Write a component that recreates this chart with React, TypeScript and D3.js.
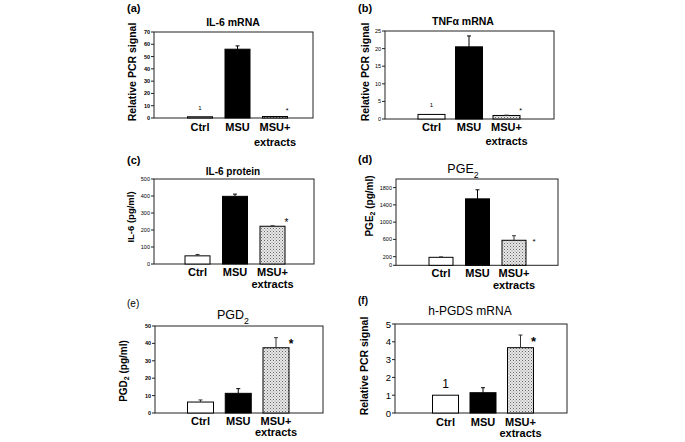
import React from "react";
import * as d3 from "d3";

const categories = ["Ctrl", "MSU", "MSU+ extracts"];

const il6mRNA = [1, 56, 1.2];
const il6mRNAErr = [0, 2.7, 0];
const tnfMRNA = [1.3, 20.5, 1.0];
const tnfMRNAErr = [0, 3.1, 0.1];
const il6Protein = [48, 398, 222];
const il6ProteinErr = [8, 13, 3];
const pge2 = [185, 1540, 580];
const pge2Err = [10, 210, 105];
const pgd2 = [6.3, 11.3, 37.5];
const pgd2Err = [1.2, 2.7, 5.8];
const hpgds = [1, 1.14, 3.67];
const hpgdsErr = [0, 0.28, 0.71];

const ticksA = [0, 10, 20, 30, 40, 50, 60, 70];
const ticksB = [0, 5, 10, 15, 20, 25];
const ticksC = [0, 100, 200, 300, 400, 500];
const ticksD = [0, 200, 600, 1000, 1400, 1800];
const ticksE = [0, 10, 20, 30, 40, 50];
const ticksF = [0, 1, 2, 3, 4, 5];

const FONT = "'Liberation Sans', Arial, Helvetica, sans-serif";

type Part = { t: string; sub?: boolean };

interface PanelCfg {
  tag: string; tagX: number; tagY: number; tagSize: number; tagWeight: string;
  title: Part[]; titleX: number; titleY: number; titleSize: number; titleWeight: string;
  x0: number; x1: number; yTop: number; yBot: number;
  c0: number; c2: number; barW: number;
  max: number; ticks: number[]; tickSize: number; tickWeight: string;
  values: number[]; errs: number[];
  ylabel: Part[]; ylabelX: number; ylabelY: number; ylabelSize: number;
  ctrlMark: boolean; ctrlMarkSize: number; ctrlMarkOff: number;
  starSize: number; starDx: number; starOff: number; starWeight: string;
  catSize: number; catY1: number; catY2: number;
}

const panels: PanelCfg[] = [
  {
    tag: "(a)", tagX: 127, tagY: 12, tagSize: 11, tagWeight: "bold",
    title: [{ t: "IL-6 mRNA" }], titleX: 233, titleY: 26, titleSize: 10.5, titleWeight: "bold",
    x0: 154, x1: 313, yTop: 32, yBot: 118, c0: 200, c2: 275, barW: 25,
    max: 70, ticks: ticksA, tickSize: 5.5, tickWeight: "bold",
    values: il6mRNA, errs: il6mRNAErr,
    ylabel: [{ t: "Relative PCR signal" }], ylabelX: 132, ylabelY: 72, ylabelSize: 10.5,
    ctrlMark: true, ctrlMarkSize: 6, ctrlMarkOff: 7,
    starSize: 7, starDx: 12, starOff: 6, starWeight: "normal",
    catSize: 11, catY1: 131, catY2: 146,
  },
  {
    tag: "(b)", tagX: 358, tagY: 12, tagSize: 11, tagWeight: "bold",
    title: [{ t: "TNFα mRNA" }], titleX: 463, titleY: 25, titleSize: 10.5, titleWeight: "bold",
    x0: 385, x1: 554, yTop: 31, yBot: 119, c0: 431.5, c2: 506.5, barW: 27,
    max: 25, ticks: ticksB, tickSize: 5.5, tickWeight: "normal",
    values: tnfMRNA, errs: tnfMRNAErr,
    ylabel: [{ t: "Relative PCR signal" }], ylabelX: 365, ylabelY: 72, ylabelSize: 10.5,
    ctrlMark: true, ctrlMarkSize: 6, ctrlMarkOff: 7,
    starSize: 7, starDx: 14, starOff: 5, starWeight: "normal",
    catSize: 11, catY1: 131, catY2: 145,
  },
  {
    tag: "(c)", tagX: 127, tagY: 164, tagSize: 11, tagWeight: "bold",
    title: [{ t: "IL-6 protein" }], titleX: 233, titleY: 175, titleSize: 10, titleWeight: "bold",
    x0: 154, x1: 314, yTop: 179, yBot: 264, c0: 197.5, c2: 272.5, barW: 25,
    max: 500, ticks: ticksC, tickSize: 5.5, tickWeight: "normal",
    values: il6Protein, errs: il6ProteinErr,
    ylabel: [{ t: "IL-6 (pg/ml)" }], ylabelX: 130, ylabelY: 217, ylabelSize: 9.5,
    ctrlMark: false, ctrlMarkSize: 6, ctrlMarkOff: 7,
    starSize: 10, starDx: 14, starOff: 3, starWeight: "normal",
    catSize: 11, catY1: 276, catY2: 288,
  },
  {
    tag: "(d)", tagX: 358, tagY: 163, tagSize: 11, tagWeight: "bold",
    title: [{ t: "PGE" }, { t: "2", sub: true }], titleX: 463, titleY: 173, titleSize: 12.5, titleWeight: "normal",
    x0: 396, x1: 558, yTop: 179, yBot: 265.3, c0: 441, c2: 514, barW: 24,
    max: 2000, ticks: ticksD, tickSize: 5.5, tickWeight: "normal",
    values: pge2, errs: pge2Err,
    ylabel: [{ t: "PGE" }, { t: "2", sub: true }, { t: " (pg/ml)" }], ylabelX: 369, ylabelY: 206, ylabelSize: 10,
    ctrlMark: false, ctrlMarkSize: 6, ctrlMarkOff: 7,
    starSize: 8, starDx: 20, starOff: -6, starWeight: "normal",
    catSize: 11, catY1: 277, catY2: 289,
  },
  {
    tag: "(e)", tagX: 127, tagY: 307, tagSize: 10, tagWeight: "normal",
    title: [{ t: "PGD" }, { t: "2", sub: true }], titleX: 233, titleY: 319, titleSize: 12.5, titleWeight: "normal",
    x0: 155, x1: 323, yTop: 326, yBot: 413, c0: 200.5, c2: 276, barW: 26,
    max: 50, ticks: ticksE, tickSize: 5.5, tickWeight: "bold",
    values: pgd2, errs: pgd2Err,
    ylabel: [{ t: "PGD" }, { t: "2", sub: true }, { t: " (pg/ml)" }], ylabelX: 123, ylabelY: 371, ylabelSize: 10,
    ctrlMark: false, ctrlMarkSize: 6, ctrlMarkOff: 7,
    starSize: 12, starDx: 15, starOff: -6, starWeight: "bold",
    catSize: 11, catY1: 425, catY2: 436,
  },
  {
    tag: "(f)", tagX: 358, tagY: 304, tagSize: 10, tagWeight: "bold",
    title: [{ t: "h-PGDS mRNA" }], titleX: 470, titleY: 315, titleSize: 12, titleWeight: "normal",
    x0: 395, x1: 567, yTop: 324, yBot: 413, c0: 445.5, c2: 520.5, barW: 26,
    max: 5, ticks: ticksF, tickSize: 9.5, tickWeight: "normal",
    values: hpgds, errs: hpgdsErr,
    ylabel: [{ t: "Relative PCR signal" }], ylabelX: 364, ylabelY: 366, ylabelSize: 10.5,
    ctrlMark: true, ctrlMarkSize: 12, ctrlMarkOff: 7,
    starSize: 13, starDx: 13, starOff: -6, starWeight: "bold",
    catSize: 11, catY1: 426, catY2: 437,
  },
];

const fills = ["#ffffff", "#000000", "url(#stipple)"];

function Parts({ parts }: { parts: Part[] }) {
  return (
    <>
      {parts.map((p, i) =>
        p.sub ? (
          <tspan key={i} baselineShift="sub" fontSize="70%">{p.t}</tspan>
        ) : (
          <tspan key={i}>{p.t}</tspan>
        )
      )}
    </>
  );
}

function Panel({ cfg }: { cfg: PanelCfg }) {
  const y = d3.scaleLinear().domain([0, cfg.max]).range([cfg.yBot, cfg.yTop]);
  const x = d3.scalePoint<string>().domain(categories).range([cfg.c0, cfg.c2]);
  const stroke = "#222";
  return (
    <g fontFamily={FONT}>
      <text x={cfg.tagX} y={cfg.tagY} fontSize={cfg.tagSize} fontWeight={cfg.tagWeight}>{cfg.tag}</text>
      <text x={cfg.titleX} y={cfg.titleY} fontSize={cfg.titleSize} fontWeight={cfg.titleWeight} textAnchor="middle">
        <Parts parts={cfg.title} />
      </text>
      <text
        transform={`translate(${cfg.ylabelX},${cfg.ylabelY}) rotate(-90)`}
        fontSize={cfg.ylabelSize}
        fontWeight="bold"
        textAnchor="middle"
        dominantBaseline="central"
      >
        <Parts parts={cfg.ylabel} />
      </text>
      {/* frame */}
      <rect x={cfg.x0} y={cfg.yTop} width={cfg.x1 - cfg.x0} height={cfg.yBot - cfg.yTop} fill="none" stroke={stroke} strokeWidth={1} />
      {cfg.ticks.map((t) => (
        <g key={t}>
          <line x1={cfg.x0 - 3} x2={cfg.x0} y1={y(t)} y2={y(t)} stroke={stroke} strokeWidth={1} />
          <text
            x={cfg.x0 - 4}
            y={y(t)}
            fontSize={cfg.tickSize}
            fontWeight={cfg.tickWeight}
            textAnchor="end"
            dominantBaseline="central"
          >
            {t}
          </text>
        </g>
      ))}
      {categories.map((c, i) => {
        const cx = x(c) as number;
        const v = cfg.values[i];
        const e = cfg.errs[i];
        const top = y(v);
        const etop = y(v + e);
        return (
          <g key={c}>
            <rect x={cx - cfg.barW / 2} y={top} width={cfg.barW} height={cfg.yBot - top} fill={fills[i]} stroke="#000" strokeWidth={1} />
            {e > 0 && (
              <g stroke={i === 1 ? "#000" : "#333"} strokeWidth={1}>
                <line x1={cx} x2={cx} y1={top} y2={etop} />
                <line x1={cx - 2} x2={cx + 2} y1={etop} y2={etop} />
              </g>
            )}
            {c.split(" ").map((w, j) => (
              <text
                key={j}
                x={cx}
                y={j === 0 ? cfg.catY1 : cfg.catY2}
                fontSize={cfg.catSize}
                fontWeight="bold"
                textAnchor="middle"
              >
                {w}
              </text>
            ))}
          </g>
        );
      })}
      {cfg.ctrlMark && (
        <text
          x={x(categories[0]) as number}
          y={y(cfg.values[0] + cfg.errs[0]) - cfg.ctrlMarkOff}
          fontSize={cfg.ctrlMarkSize}
          textAnchor="middle"
        >
          1
        </text>
      )}
      <text
        x={(x(categories[2]) as number) + cfg.starDx}
        y={y(cfg.values[2] + cfg.errs[2]) - cfg.starOff}
        fontSize={cfg.starSize}
        fontWeight={cfg.starWeight}
        textAnchor="middle"
        dominantBaseline="central"
      >
        *
      </text>
    </g>
  );
}

export default function App() {
  return (
    <svg
      width={685}
      height={442}
      viewBox="0 0 685 442"
      style={{ position: "absolute", left: 0, top: 0, background: "#fff" }}
    >
      <defs>
        <pattern id="stipple" width={3} height={3} patternUnits="userSpaceOnUse">
          <rect width={3} height={3} fill="#e8e8e8" />
          <rect x={0} y={0} width={1} height={1} fill="#666" />
          <rect x={1.5} y={1.5} width={1} height={1} fill="#888" />
        </pattern>
      </defs>
      <rect width={685} height={442} fill="#fff" />
      {panels.map((p) => (
        <Panel key={p.tag} cfg={p} />
      ))}
    </svg>
  );
}
